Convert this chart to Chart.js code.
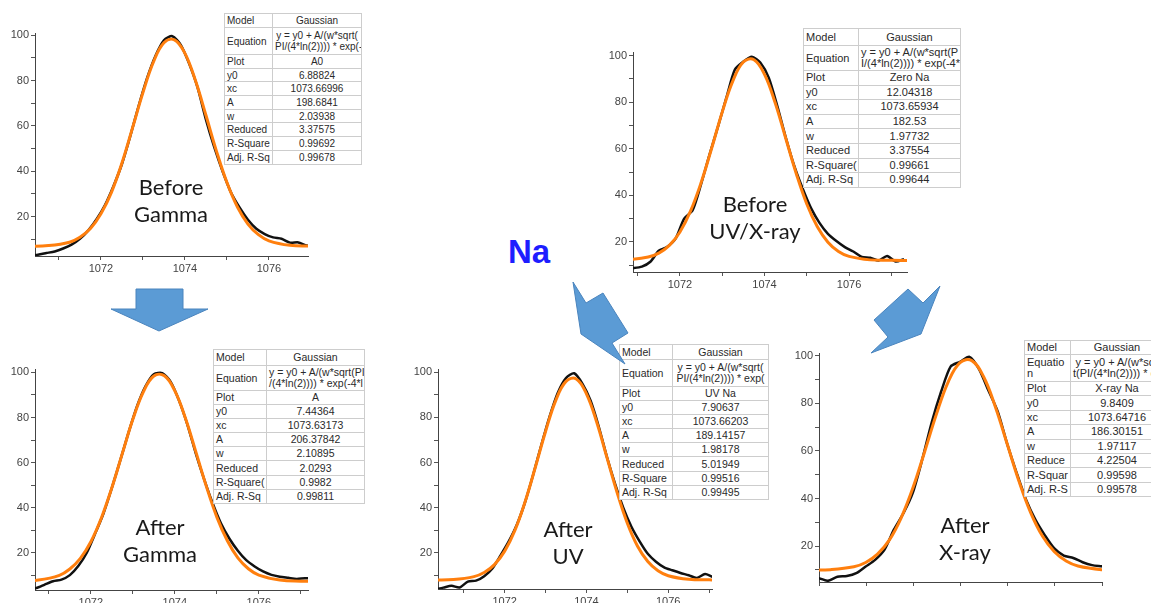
<!DOCTYPE html>
<html>
<head>
<meta charset="utf-8">
<script src="https://cdn.jsdelivr.net/npm/chart.js@4.4.0/dist/chart.umd.min.js"></script>
<style>
  html, body { margin: 0; padding: 0; background: #fff; }
  body { position: relative; width: 1151px; height: 603px; overflow: hidden; font-family: "Liberation Sans", Arial, sans-serif; }
  canvas { position: absolute; }
  .tbl { position: absolute; border-collapse: collapse; table-layout: fixed; background: #fff; border: 1px solid #6a6a6a; color: #2a2a2a; z-index: 2; }
  .tbl td { border: 1px solid #cdcdcd; padding: 0 2px; white-space: nowrap; overflow: hidden; line-height: 11px; }
  .tbl td.v { text-align: center; }
  .lbl { position: absolute; width: 140px; font-family: Lato, "Open Sans", sans-serif; font-size: 22px; line-height: 27px; color: #1a1a1a; text-align: center; z-index: 1; }
  #na { position: absolute; left: 508px; top: 232px; font: bold 33px/40px "Liberation Sans", Arial, sans-serif; color: #1e1eff; }
  svg { position: absolute; left: 0; top: 0; z-index: 3; pointer-events: none; }
</style>
</head>
<body>
<div id="na">Na</div>
<svg width="1151" height="603" id="arrows"></svg>
<script>
// x positions (shared) of the fitted curve and of the measured data
const fitX = [1070.25, 1070.75, 1071.25, 1071.5, 1071.75, 1072, 1072.25, 1072.5, 1072.75, 1073, 1073.25, 1073.5, 1073.75,
  1074, 1074.25, 1074.5, 1074.75, 1075, 1075.25, 1075.5, 1075.75, 1076, 1076.5, 1077, 1077.5];
const dataX = [1070.3, 1070.5, 1070.7, 1070.9, 1071.1, 1071.3, 1071.5, 1071.7, 1071.9, 1072.1, 1072.3, 1072.5, 1072.7, 1072.9,
  1073.1, 1073.3, 1073.5, 1073.7, 1073.9, 1074.1, 1074.3, 1074.5, 1074.7, 1074.9, 1075.1, 1075.3, 1075.5, 1075.7, 1075.9,
  1076.1, 1076.3, 1076.5, 1076.7, 1076.9, 1077.1, 1077.3];

// Gaussian fits (orange)
const fitBeforeGamma = [6.9, 7.2, 8.7, 10.9, 14.7, 21.2, 30.7, 43.6, 59.0, 74.7, 88.2, 96.7, 98.0, 92.0, 80.0, 64.7, 48.9, 35.0, 24.2, 16.7, 12.0, 9.3, 7.3, 7.0, 6.9];
const fitBeforeUvXray = [12.1, 12.3, 13.5, 15.2, 18.5, 24.3, 33.2, 45.4, 60.2, 75.7, 89.0, 97.2, 98.2, 91.9, 79.8, 64.6, 49.4, 36.3, 26.5, 19.9, 15.9, 13.8, 12.3, 12.1, 12.0];
const fitAfterGamma = [7.5, 8.0, 10.1, 12.9, 17.6, 25.0, 35.5, 48.9, 64.1, 79.2, 91.4, 98.4, 98.5, 91.8, 79.8, 64.8, 49.5, 35.9, 25.4, 17.8, 13.0, 10.2, 8.0, 7.5, 7.4];
const fitAfterUv = [7.9, 8.1, 9.4, 11.2, 14.7, 20.7, 29.9, 42.6, 57.9, 73.8, 87.6, 96.0, 97.1, 90.5, 78.0, 62.3, 46.7, 33.1, 22.9, 16.1, 12.0, 9.8, 8.2, 7.95, 7.9];
const fitAfterXray = [9.85, 10.1, 11.3, 13.1, 16.6, 22.5, 31.8, 44.4, 59.7, 75.5, 89.1, 97.2, 98.0, 91.2, 78.5, 62.9, 47.3, 34.0, 24.1, 17.6, 13.7, 11.6, 10.1, 9.9, 9.85];

// measured spectra (black)
const dataBeforeGamma = [2.8, 3.2, 3.9, 4.6, 5.9, 7.6, 10.2, 13.9, 18.9, 25.2, 33.5, 43.2, 55.6, 69.0, 81.2, 91.0, 97.8, 99.6,
  95.8, 87.5, 77.0, 62.8, 50.5, 39.8, 30.5, 24.0, 18.6, 14.6, 12.3, 10.8, 10.2, 8.5, 8.6, 7.2, 7.0, 7.0];
const dataBeforeUvXray = [8.5, 8.5, 8.6, 8.8, 9.4, 11.5, 16.2, 17.9, 21.5, 30.0, 33.6, 44.8, 57.5, 69.5, 82.0, 94.0, 97.4, 99.5,
  97.0, 90.5, 78.5, 65.0, 52.8, 43.0, 34.5, 28.2, 23.5, 20.4, 17.8, 15.9, 13.6, 13.2, 12.0, 14.0, 11.6, 12.6];
const dataAfterGamma = [4.0, 4.2, 4.5, 6.0, 7.5, 8.2, 10.2, 14.2, 20.0, 28.5, 37.5, 48.8, 61.0, 73.5, 85.0, 93.8, 99.2, 99.7,
  95.8, 87.5, 76.8, 64.0, 52.5, 42.0, 33.0, 26.3, 21.0, 16.8, 14.0, 11.8, 10.3, 9.5, 9.0, 8.5, 8.8, 8.6];
const dataAfterUv = [3.8, 4.5, 5.3, 4.6, 7.2, 7.6, 9.6, 13.0, 18.8, 25.0, 32.5, 42.5, 54.8, 68.0, 80.5, 91.0, 97.5, 99.6,
  95.0, 87.5, 76.0, 62.5, 50.5, 40.0, 31.5, 25.0, 19.5, 16.0, 13.5, 12.2, 11.0, 10.0, 8.8, 10.5, 9.2, 9.0];
const dataAfterXray = [6.2, 6.5, 5.4, 7.1, 7.4, 8.6, 11.4, 14.2, 18.5, 27.0, 33.8, 42.5, 56.5, 72.0, 85.0, 95.5, 97.5, 99.6,
  94.5, 85.5, 76.5, 63.0, 50.8, 39.5, 31.0, 24.5, 19.0, 16.0, 15.0, 13.2, 12.0, 11.5, 11.0, 10.8, 10.5, 10.5];

// tick labels
const xTickLabels = [1072, 1074, 1076];
const yTickLabels = [20, 40, 60, 80, 100];

// fit result tables
const rowNames = ["Model", "Equation", "Plot", "y0", "xc", "A", "w", "Reduced", "R-Square", "Adj. R-Sq"];
const rowNamesCut = ["Model", "Equation", "Plot", "y0", "xc", "A", "w", "Reduced", "R-Square(", "Adj. R-Sq"];
const rowNamesNarrow = ["Model", "Equatio<br>n", "Plot", "y0", "xc", "A", "w", "Reduce", "R-Squar", "Adj. R-S"];
const valsBeforeGamma = ["Gaussian", "y = y0 + A/(w*sqrt(<br>PI/(4*ln(2)))) * exp(-", "A0", "6.88824", "1073.66996", "198.6841", "2.03938", "3.37575", "0.99692", "0.99678"];
const valsBeforeUvXray = ["Gaussian", "y = y0 + A/(w*sqrt(P<br>I/(4*ln(2)))) * exp(-4*", "Zero Na", "12.04318", "1073.65934", "182.53", "1.97732", "3.37554", "0.99661", "0.99644"];
const valsAfterGamma = ["Gaussian", "y = y0 + A/(w*sqrt(PI<br>/(4*ln(2)))) * exp(-4*l", "A", "7.44364", "1073.63173", "206.37842", "2.10895", "2.0293", "0.9982", "0.99811"];
const valsAfterUv = ["Gaussian", "y = y0 + A/(w*sqrt(<br>PI/(4*ln(2)))) * exp(", "UV Na", "7.90637", "1073.66203", "189.14157", "1.98178", "5.01949", "0.99516", "0.99495"];
const valsAfterXray = ["Gaussian", "y = y0 + A/(w*sqr<br>t(PI/(4*ln(2)))) * exp(", "X-ray Na", "9.8409", "1073.64716", "186.30151", "1.97117", "4.22504", "0.99598", "0.99578"];

const zip = (xs, ys) => xs.map((x, i) => ({ x: x, y: ys[i] }));

// plot area = [left, top, right, bottom] in page pixels
const panels = [
  { area: [35, 33, 308, 256], xr: [1070.43, 1076.93], yr: [2.6, 101], fit: fitBeforeGamma, data: dataBeforeGamma },
  { area: [633, 52, 907, 272], xr: [1070.89, 1077.37], yr: [7.1, 101.5], fit: fitBeforeUvXray, data: dataBeforeUvXray },
  { area: [35, 369, 308, 590], xr: [1070.67, 1077.17], yr: [3.6, 101.5], fit: fitAfterGamma, data: dataAfterGamma },
  { area: [438, 369, 712, 589], xr: [1070.37, 1077.07], yr: [3.9, 101.5], fit: fitAfterUv, data: dataAfterUv },
  { area: [819, 353, 1102, 582], xr: [1070.51, 1076.51], yr: [4.9, 101.2], fit: fitAfterXray, data: dataAfterXray },
];

const tickFont = { family: "Liberation Sans", size: 11 };

function makeChart(p) {
  const [L, T, R, B] = p.area;
  const cv = document.createElement("canvas");
  cv.width = R - L + 55;
  cv.height = B - T + 35;
  cv.style.left = (L - 45) + "px";
  cv.style.top = (T - 10) + "px";
  document.body.appendChild(cv);

  // first dataset is drawn on top: orange fit over the black data
  new Chart(cv.getContext("2d"), {
    type: "line",
    data: {
      datasets: [
        { data: zip(fitX, p.fit), borderColor: "#ff7f0e", borderWidth: 3, pointRadius: 0, tension: 0.4 },
        { data: zip(dataX, p.data), borderColor: "#111", borderWidth: 2.5, pointRadius: 0, tension: 0.25 },
      ],
    },
    options: {
      responsive: false,
      animation: false,
      events: [],
      layout: { padding: { top: 10, right: 10, left: 0, bottom: 0 } },
      plugins: { legend: { display: false }, tooltip: { enabled: false } },
      scales: {
        x: {
          type: "linear",
          min: p.xr[0],
          max: p.xr[1],
          afterFit(s) { s.height = 25; s.paddingLeft = 0; s.paddingRight = 0; },
          grid: { drawOnChartArea: false, tickLength: 4, color: "#555" },
          border: { color: "#444", width: 1 },
          ticks: {
            stepSize: 1, includeBounds: false, autoSkip: false, maxRotation: 0, padding: 2,
            color: "#444", font: tickFont,
            callback: (v) => (xTickLabels.includes(v) ? String(v) : ""),
          },
        },
        y: {
          min: p.yr[0],
          max: p.yr[1],
          afterFit(s) { s.width = 45; s.paddingTop = 0; s.paddingBottom = 0; },
          grid: { drawOnChartArea: false, tickLength: 4, color: "#555" },
          border: { color: "#444", width: 1 },
          ticks: {
            stepSize: 10, includeBounds: false, autoSkip: false, padding: 2,
            color: "#444", font: tickFont,
            callback: (v) => (yTickLabels.includes(v) ? String(v) : ""),
          },
        },
      },
    },
  });
}

panels.forEach(makeChart);

// tables: left, top, width, first column width, row heights (model, equation, rest), font size
function makeTable(names, vals, left, top, width, c1, rh, fs) {
  const t = document.createElement("table");
  t.className = "tbl";
  t.style.left = left + "px";
  t.style.top = top + "px";
  t.style.width = width + "px";
  t.style.fontSize = fs + "px";
  let html = '<colgroup><col style="width:' + c1 + 'px"><col></colgroup>';
  names.forEach((n, i) => {
    const h = i === 0 ? rh[0] : i === 1 ? rh[1] : rh[2];
    html += '<tr style="height:' + h + 'px"><td>' + n + '</td><td class="v">' + vals[i] + "</td></tr>";
  });
  t.innerHTML = html;
  document.body.appendChild(t);
}

makeTable(rowNames, valsBeforeGamma, 224, 13, 138, 48, [14, 27, 13.7], 10);
makeTable(rowNamesCut, valsBeforeUvXray, 803, 28, 158, 55, [17, 25, 14.6], 11);
makeTable(rowNamesCut, valsAfterGamma, 213, 349, 152, 53, [16, 25, 14.1], 10.5);
makeTable(rowNames, valsAfterUv, 619, 344, 150, 53, [15, 27, 14.1], 10.5);
makeTable(rowNamesNarrow, valsAfterXray, 1024, 340, 140, 46, [14, 27, 14.4], 11);

// captions
const captions = [
  { lines: ["Before", "Gamma"], cx: 171, top: 173 },
  { lines: ["Before", "UV/X-ray"], cx: 755, top: 190 },
  { lines: ["After", "Gamma"], cx: 160, top: 513 },
  { lines: ["After", "UV"], cx: 568, top: 515 },
  { lines: ["After", "X-ray"], cx: 965, top: 511 },
];
captions.forEach((c) => {
  const d = document.createElement("div");
  d.className = "lbl";
  d.style.left = (c.cx - 70) + "px";
  d.style.top = c.top + "px";
  d.innerHTML = c.lines.join("<br>");
  document.body.appendChild(d);
});

// block arrows
const arrowShapes = [
  "136,289 183,289 183,309 208,309 159,331 111,309 136,309",
  "573,282 586,303 603,293 628,333 612,343 625,364 581,334",
  "908,289 923,303 940,286 921,334 871,353 888,337 874,320",
];
const svg = document.getElementById("arrows");
svg.innerHTML = arrowShapes
  .map((pts) => '<polygon points="' + pts + '" fill="#5b9bd5" stroke="#4a84bd" stroke-width="1"/>')
  .join("");
</script>
</body>
</html>
